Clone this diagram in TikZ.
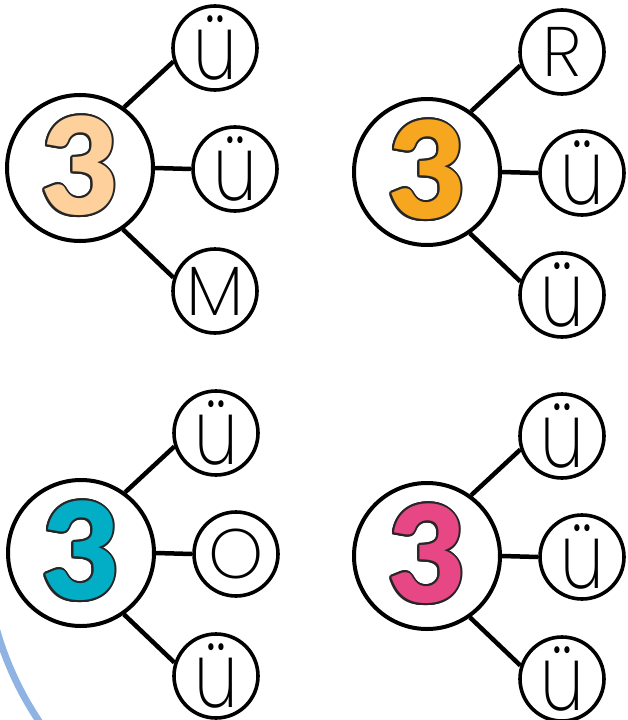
\documentclass[tikz,border=0pt]{standalone}
\usepackage{fontspec}
\newfontfamily\numfont{Lato Black}
\newfontfamily\letfont{Poppins ExtraLight}
\usetikzlibrary{calc}
\definecolor{peach}{HTML}{FDD09C}
\definecolor{orangeC}{HTML}{F6A61F}
\definecolor{tealC}{HTML}{02AEC6}
\definecolor{pinkC}{HTML}{E84786}
\definecolor{arcblue}{HTML}{8FB4E3}
\tikzset{
  bigc/.style={circle,draw=black,line width=4pt,fill=white,minimum size=146pt,inner sep=0pt},
  smallc/.style={circle,draw=black,line width=3.6pt,fill=white,minimum size=84pt,inner sep=0pt,
    font=\letfont\fontsize{70}{70}\selectfont},
  conn/.style={line width=4.5pt},
  digit/.style={font=\numfont\fontsize{134}{134}\selectfont,inner sep=0pt},
}
\newcommand\umlu{\scalebox{1}[1.3]{ü}}
\newcommand\drawgroup[7]{%
  \node[bigc] (#1) at (#2,#3) {};
  \foreach \a in {0,22.5,...,337.5} \node[digit,text=black!85] at ($(#1)+(0,-2)+(\a:2pt)$) {3};
  \node[digit,text=#4] (#1d) at ($(#1)+(0,-2)$) {3};
  \node[smallc] (#1t) at ($(#1)+(135,-120)$) {#5};
  \node[smallc] (#1m) at ($(#1)+(155,1)$) {#6};
  \node[smallc] (#1b) at ($(#1)+(135,123)$) {#7};
  \draw[conn] (#1.54) -- (#1t.198);
  \draw[conn] (#1.east) -- (#1m.west);
  \draw[conn] (#1.-55) -- (#1b.162);
}
\begin{document}
\begin{tikzpicture}[x=1pt,y=-1pt]
  \useasboundingbox (0,0) rectangle (627,720);
  \begin{scope}
    \clip (0,0) rectangle (627,720);
    \draw[line width=7pt,arcblue] (310,540) ++(188:326pt) arc[start angle=188,end angle=228,radius=326pt];
  \end{scope}
  \drawgroup{g1}{80}{168}{peach}{\umlu}{\umlu}{M}
  \drawgroup{g2}{427}{172}{orangeC}{R}{\umlu}{\umlu}
  \drawgroup{g3}{81}{553}{tealC}{\umlu}{O}{\umlu}
  \drawgroup{g4}{427}{556}{pinkC}{\umlu}{\umlu}{\umlu}
\end{tikzpicture}
\end{document}
